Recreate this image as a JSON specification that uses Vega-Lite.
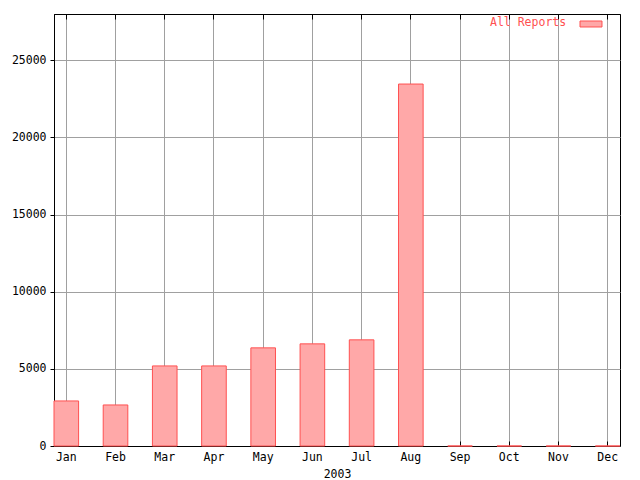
{
  "$schema": "https://vega.github.io/schema/vega-lite/v6.json",
  "width": 566,
  "height": 432,
  "autosize": {"type": "none"},
  "padding": {"left": 54, "top": 14, "right": 20, "bottom": 34},
  "background": "white",
  "config": {
    "view": {"stroke": "#000000", "strokeWidth": 1},
    "font": "DejaVu Sans Mono",
    "axis": {
      "labelFont": "DejaVu Sans Mono",
      "labelFontSize": 11.5,
      "labelColor": "#000000",
      "titleFont": "DejaVu Sans Mono",
      "titleFontSize": 11.5,
      "titleFontWeight": "normal",
      "titleColor": "#000000",
      "domainColor": "#000000",
      "tickColor": "#000000",
      "gridColor": "#a0a0a0",
      "gridOpacity": 1,
      "gridWidth": 1
    }
  },
  "data": {
    "values": [
      {"month": "Jan", "reports": 2920, "series": "All Reports"},
      {"month": "Feb", "reports": 2660, "series": "All Reports"},
      {"month": "Mar", "reports": 5190, "series": "All Reports"},
      {"month": "Apr", "reports": 5190, "series": "All Reports"},
      {"month": "May", "reports": 6360, "series": "All Reports"},
      {"month": "Jun", "reports": 6620, "series": "All Reports"},
      {"month": "Jul", "reports": 6880, "series": "All Reports"},
      {"month": "Aug", "reports": 23460, "series": "All Reports"},
      {"month": "Sep", "reports": 0, "series": "All Reports"},
      {"month": "Oct", "reports": 0, "series": "All Reports"},
      {"month": "Nov", "reports": 0, "series": "All Reports"},
      {"month": "Dec", "reports": 0, "series": "All Reports"}
    ]
  },
  "layer": [
    {
      "mark": {"type": "bar", "stroke": "#ff5050", "strokeWidth": 1, "fillOpacity": 1},
      "encoding": {
        "x": {
          "field": "month",
          "type": "ordinal",
          "sort": null,
          "scale": {"paddingInner": 0.5, "paddingOuter": 0},
          "axis": {
            "orient": "bottom",
            "title": "2003",
            "labelAngle": 0,
            "bandPosition": 0.5,
            "grid": true,
            "tickSize": -5,
            "labelPadding": 10,
            "titlePadding": 6
          }
        },
        "y": {
          "field": "reports",
          "type": "quantitative",
          "scale": {"domain": [0, 28000], "nice": false},
          "axis": {
            "title": null,
            "values": [0, 5000, 10000, 15000, 20000, 25000],
            "format": "d",
            "grid": true,
            "tickSize": 4,
            "labelPadding": 4
          }
        },
        "fill": {
          "field": "series",
          "type": "nominal",
          "scale": {"range": ["#ffa8a8"]},
          "legend": {
            "orient": "none",
            "legendX": 436,
            "legendY": 3,
            "title": "All Reports",
            "titleOrient": "left",
            "titleColor": "#ff5050",
            "titleFont": "DejaVu Sans Mono",
            "titleFontSize": 11.5,
            "titleFontWeight": "normal",
            "titlePadding": 17,
            "labelExpr": "''",
            "symbolType": "M-1.692,-0.46H1.692V0.46H-1.692Z",
            "symbolSize": 169,
            "symbolStrokeColor": "#ff5050",
            "symbolStrokeWidth": 1,
            "symbolFillColor": "#ffa8a8"
          }
        }
      }
    },
    {
      "mark": {"type": "bar", "opacity": 0},
      "encoding": {
        "x": {
          "field": "month",
          "type": "ordinal",
          "sort": null,
          "scale": {"paddingInner": 0.5, "paddingOuter": 0},
          "axis": {
            "orient": "top",
            "title": null,
            "labels": false,
            "bandPosition": 0.5,
            "grid": false,
            "tickSize": -5
          }
        }
      }
    }
  ],
  "resolve": {"axis": {"x": "independent"}}
}
